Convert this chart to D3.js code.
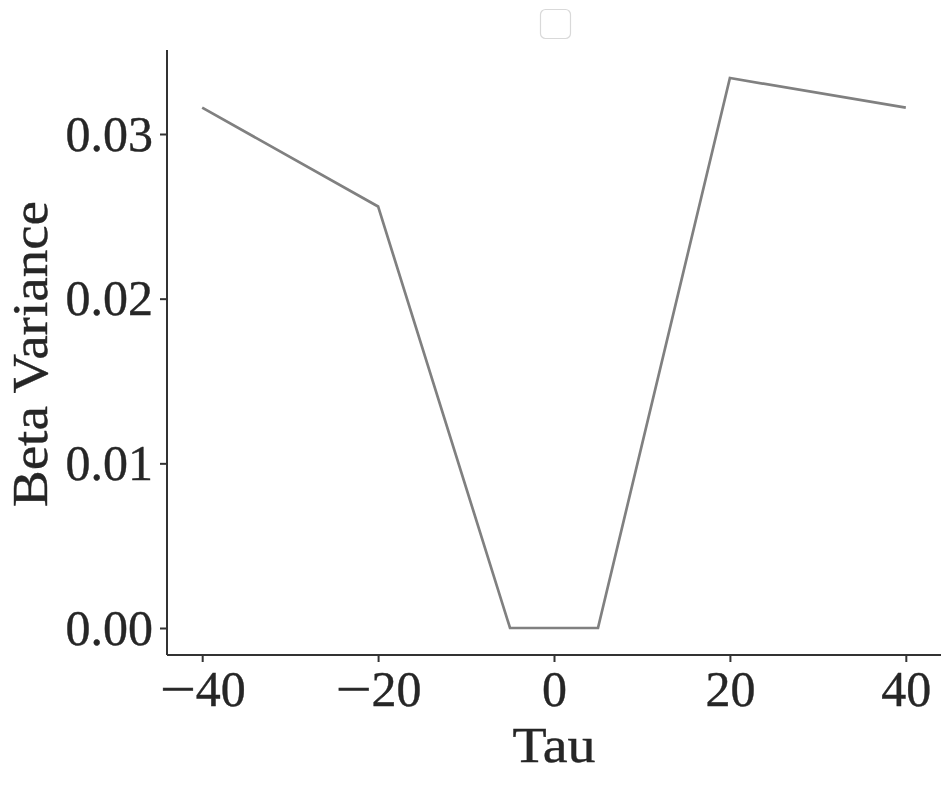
<!DOCTYPE html>
<html><head><meta charset="utf-8">
<script src="https://cdn.jsdelivr.net/npm/d3@7"></script>
<style>body{margin:0;background:#fff}svg{display:block}text{font-family:"Liberation Serif","DejaVu Serif",serif;fill:#262626}</style>
</head><body>
<svg id="c" width="951" height="785"></svg>
<script>
const tau = [-40, -20, -5, 5, 20, 40];
const betaVariance = [0.0316, 0.0256, 0.0, 0.0, 0.0334, 0.0316];
const xTicks = [-40, -20, 0, 20, 40];
const yTicks = [0.00, 0.01, 0.02, 0.03];
const xLabel = "Tau", yLabel = "Beta Variance";

const svg = d3.select("#c");
const x = d3.scaleLinear().domain([-44, 44]).range([167, 941]);
const y = d3.scaleLinear().domain([0, 0.03]).range([628, 134]);
const axisColor = "#333333";
const fs = 50;

const gx = svg.append("g").attr("transform", "translate(0,655)")
  .call(d3.axisBottom(x).tickValues(xTicks).tickSize(7).tickPadding(8).tickFormat(d => String(d)));
gx.select(".domain").attr("d", "M167,0H941").attr("stroke", axisColor).attr("stroke-width", 2);
gx.selectAll(".tick line").attr("stroke", axisColor).attr("stroke-width", 2);
gx.selectAll(".tick text").attr("font-size", fs).attr("font-family", null).attr("fill", "#262626")
  .attr("stroke", "#262626").attr("stroke-width", 0.4)
  .attr("dy", "0.71em")
  .each(function(d) {
    if (d < 0) {
      const t = d3.select(this).text("");
      t.append("tspan").attr("textLength", 36).attr("lengthAdjust", "spacingAndGlyphs").text("\u2212");
      t.append("tspan").text(String(Math.abs(d)));
    }
  });

const gy = svg.append("g").attr("transform", "translate(167,0)")
  .call(d3.axisLeft(y).tickValues(yTicks).tickSize(7).tickPadding(7).tickFormat(d3.format(".2f")));
gy.select(".domain").attr("d", "M0,50V655").attr("stroke", axisColor).attr("stroke-width", 2);
gy.selectAll(".tick line").attr("stroke", axisColor).attr("stroke-width", 2);
gy.selectAll(".tick text").attr("font-size", fs).attr("font-family", null).attr("fill", "#262626")
  .attr("stroke", "#262626").attr("stroke-width", 0.4);

svg.append("path").datum(tau.map((t, i) => [t, betaVariance[i]]))
  .attr("d", d3.line().x(d => x(d[0])).y(d => y(d[1])))
  .attr("fill", "none").attr("stroke", "#808080").attr("stroke-width", 2.7);

svg.append("text").attr("x", 554).attr("y", 762).attr("text-anchor", "middle").attr("font-size", fs)
  .attr("stroke", "#262626").attr("stroke-width", 0.4)
  .attr("textLength", 83).attr("lengthAdjust", "spacingAndGlyphs").text(xLabel);
svg.append("text").attr("transform", "translate(47,354) rotate(-90)").attr("text-anchor", "middle").attr("font-size", fs)
  .attr("stroke", "#262626").attr("stroke-width", 0.4)
  .attr("textLength", 306).attr("lengthAdjust", "spacingAndGlyphs").text(yLabel);

svg.append("rect").attr("x", 540.5).attr("y", 9.5).attr("width", 30).attr("height", 29).attr("rx", 5)
  .attr("fill", "#fff").attr("stroke", "#d9d9d9").attr("stroke-width", 1.2);
</script>
</body></html>
